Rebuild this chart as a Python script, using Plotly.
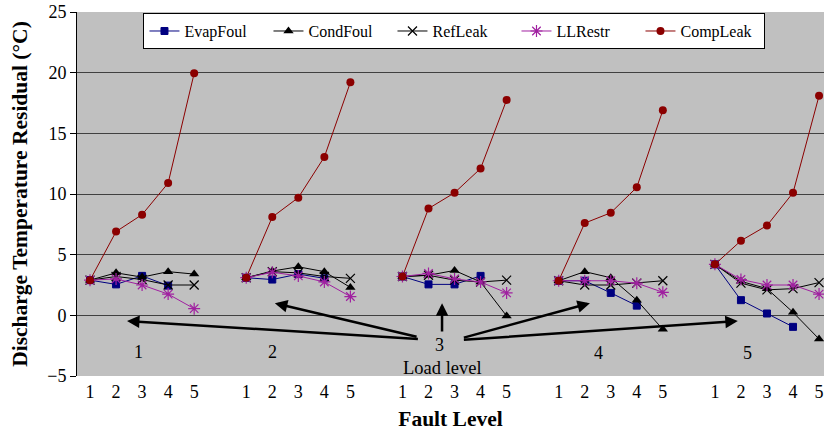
import plotly.graph_objects as go

# Fault levels within each load-level group, and the load levels themselves
fault_levels = [1, 2, 3, 4, 5]
load_levels = [1, 2, 3, 4, 5]
fault_tick_labels = ["1", "2", "3", "4", "5"]

# Discharge temperature residual (°C), one row per load level, one column per fault level
evap_foul = [
    [2.9, 2.55, 3.25, 2.45, None],
    [3.1, 2.95, 3.4, 3.05, None],
    [3.2, 2.55, 2.55, 3.25, None],
    [2.85, 2.85, 1.85, 0.8, None],
    [4.2, 1.25, 0.15, -0.95, None],
]
cond_foul = [
    [2.9, 3.5, 3.15, 3.6, 3.4],
    [3.1, 3.65, 4.0, 3.6, 2.3],
    [3.2, 3.3, 3.7, 2.75, -0.05],
    [2.85, 3.6, 3.1, 1.25, -1.15],
    [4.2, 2.8, 2.2, 0.25, -1.95],
]
ref_leak = [
    [2.9, 3.2, 2.95, 2.5, 2.5],
    [3.1, 3.6, 3.5, 3.2, 3.05],
    [3.2, 3.3, 2.9, 2.75, 2.9],
    [2.85, 2.5, 2.5, 2.65, 2.85],
    [4.2, 2.65, 2.1, 2.2, 2.7],
]
ll_restr = [
    [2.9, 3.0, 2.5, 1.75, 0.55],
    [3.1, 3.55, 3.25, 2.75, 1.55],
    [3.2, 3.45, 3.0, 2.75, 1.85],
    [2.85, 2.85, 2.85, 2.65, 1.9],
    [4.2, 2.95, 2.5, 2.5, 1.75],
]
comp_leak = [
    [2.9, 6.9, 8.3, 10.9, 19.95],
    [3.1, 8.1, 9.7, 13.05, 19.2],
    [3.2, 8.8, 10.1, 12.1, 17.75],
    [2.85, 7.6, 8.45, 10.55, 16.9],
    [4.2, 6.15, 7.4, 10.1, 18.1],
]

SERIF = "Liberation Serif"
GROUP_STEP = len(fault_levels) + 1  # one empty category between load groups


def flatten(rows):
    """Lay the groups side by side on one category axis, breaking the line between groups."""
    xs, ys = [], []
    for gi, row in enumerate(rows):
        for f, v in zip(fault_levels, row):
            xs.append(gi * GROUP_STEP + (f - 1))
            ys.append(v)
        xs.append(None)
        ys.append(None)
    return xs, ys


series = [
    ("EvapFoul", evap_foul, "#000080", dict(symbol="square", size=7, color="#000080",
                                            line=dict(color="#000080", width=1))),
    ("CondFoul", cond_foul, "#000000", dict(symbol="triangle-up", size=9, color="#000000",
                                            line=dict(color="#000000", width=0))),
    ("RefLeak", ref_leak, "#000000", dict(symbol="x-thin-open", size=9, color="#000000",
                                          line=dict(color="#000000", width=1.2))),
    ("LLRestr", ll_restr, "#A020A0", dict(symbol="asterisk-open", size=10, color="#A020A0",
                                          line=dict(color="#A020A0", width=1.2))),
    ("CompLeak", comp_leak, "#8B0000", dict(symbol="circle", size=8, color="#8B0000",
                                            line=dict(color="#8B0000", width=0))),
]

fig = go.Figure()
for name, rows, color, marker in series:
    xs, ys = flatten(rows)
    fig.add_trace(go.Scatter(
        x=xs, y=ys, name=name, mode="lines+markers",
        line=dict(color=color, width=1), marker=marker, connectgaps=False,
    ))

tick_vals, tick_text = [], []
for gi, _ in enumerate(load_levels):
    for f, lab in zip(fault_levels, fault_tick_labels):
        tick_vals.append(gi * GROUP_STEP + (f - 1))
        tick_text.append(lab)

# Load level labels inside the plot area
label_pos = {1: (1.88, -3.05), 2: (6.99, -3.05), 3: (13.44, -2.45), 4: (19.51, -3.1), 5: (25.27, -3.1)}
annotations = []
for lvl in load_levels:
    x, y = label_pos[lvl]
    annotations.append(dict(x=x, y=y, xref="x", yref="y", text=str(lvl), showarrow=False,
                            font=dict(family=SERIF, size=18, color="#000000")))
annotations.append(dict(x=13.52, y=-4.35, xref="x", yref="y", text="Load level", showarrow=False,
                        font=dict(family=SERIF, size=18.5, color="#000000")))

# Arrows from the "3" label to each load group
arrows = [
    ((12.65, -1.95), (1.42, -0.47)),
    ((12.6, -1.8), (7.1, 1.0)),
    ((13.52, -1.45), (13.52, 1.0)),
    ((14.3, -1.87), (19.2, 1.0)),
    ((14.3, -2.03), (24.88, -0.47)),
]
for (tx, ty), (hx, hy) in arrows:
    annotations.append(dict(x=hx, y=hy, ax=tx, ay=ty, xref="x", yref="y", axref="x", ayref="y",
                            text="", showarrow=True, arrowhead=2, arrowsize=1, arrowwidth=2.5,
                            arrowcolor="#000000", standoff=0, startstandoff=0))

fig.update_layout(
    width=824, height=431,
    margin=dict(l=77, r=0, t=12, b=55),
    paper_bgcolor="#FFFFFF",
    plot_bgcolor="#C0C0C0",
    font=dict(family=SERIF, size=16, color="#000000"),
    showlegend=True,
    legend=dict(
        orientation="h", x=0.089, y=0.997, xanchor="left", yanchor="top",
        bgcolor="#FFFFFF", bordercolor="#000000", borderwidth=1,
        font=dict(family=SERIF, size=16, color="#000000"),
        entrywidth=79, itemwidth=30,
    ),
    annotations=annotations,
)

fig.update_xaxes(
    range=[-0.5, 28.19], tickmode="array", tickvals=tick_vals, ticktext=tick_text,
    showgrid=False, zeroline=False, showline=False, ticks="", automargin=False,
    tickfont=dict(family=SERIF, size=18, color="#000000"), ticklabelstandoff=3,
    title=dict(text="<b>Fault Level</b>", font=dict(family=SERIF, size=21.5, color="#000000"), standoff=16),
)
fig.update_yaxes(
    range=[-5, 25], tickmode="linear", tick0=-5, dtick=5, automargin=False,
    showgrid=True, gridcolor="#404040", gridwidth=1,
    zeroline=True, zerolinecolor="#404040", zerolinewidth=1,
    showline=True, linecolor="#000000", linewidth=1,
    ticks="outside", ticklen=6, tickcolor="#000000",
    tickfont=dict(family=SERIF, size=18, color="#000000"),
    title=dict(text="<b>Discharge Temperature Residual (°C)</b>",
               font=dict(family=SERIF, size=21.5, color="#000000"), standoff=13),
)

fig.write_html("out.html")
